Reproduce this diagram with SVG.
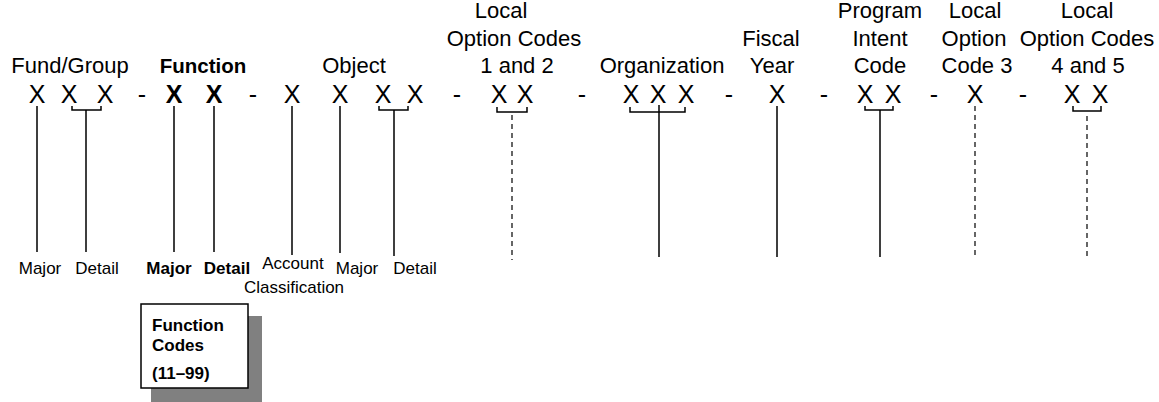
<svg xmlns="http://www.w3.org/2000/svg" width="1159" height="402" viewBox="0 0 1159 402">
<style>
text{font-family:"Liberation Sans",Arial,sans-serif;fill:#000}
.h{font-size:22px;text-anchor:middle}
.hb{font-size:20.5px;font-weight:bold;text-anchor:middle}
.x{font-size:25px;text-anchor:middle}
.xb{font-size:25px;font-weight:bold;text-anchor:middle}
.l{font-size:17px;text-anchor:middle}
.lb{font-size:17px;font-weight:bold;text-anchor:middle}
.bt{font-size:17px;font-weight:bold}
.ln{stroke:#000;stroke-width:1.5;fill:none}
.dl{stroke:#000;stroke-width:1.2;fill:none;stroke-dasharray:5 4}
</style>
<rect width="1159" height="402" fill="#fff"/>

<g id="fund">
<text class="h" x="70" y="73">Fund/Group</text>
<text class="x" x="37" y="103">X</text><text class="x" x="69" y="103">X</text><text class="x" x="105" y="103">X</text>
<text class="l" x="40" y="274">Major</text><text class="l" x="97" y="274">Detail</text>
</g>
<text class="x" x="142" y="103">-</text>
<g id="function">
<text class="hb" x="203" y="73">Function</text>
<text class="xb" x="174" y="103">X</text><text class="xb" x="214" y="103">X</text>
<text class="lb" x="169" y="274">Major</text><text class="lb" x="227" y="274">Detail</text>
</g>
<text class="x" x="253" y="103">-</text>
<g id="object">
<text class="h" x="354" y="73">Object</text>
<text class="x" x="292" y="103">X</text><text class="x" x="340" y="103">X</text><text class="x" x="383" y="103">X</text><text class="x" x="415" y="103">X</text>
<text class="l" x="293" y="269">Account</text><text class="l" x="294" y="293">Classification</text>
<text class="l" x="357" y="274">Major</text><text class="l" x="415" y="274">Detail</text>
</g>
<text class="x" x="457" y="103">-</text>
<g id="local12">
<text class="h" x="501" y="18">Local</text><text class="h" x="514" y="45.5">Option Codes</text><text class="h" x="517" y="73">1 and 2</text>
<text class="x" x="499" y="103">X</text><text class="x" x="525" y="103">X</text>
</g>
<text class="x" x="582" y="103">-</text>
<g id="organization">
<text class="h" x="662" y="73">Organization</text>
<text class="x" x="631" y="103">X</text><text class="x" x="658" y="103">X</text><text class="x" x="686" y="103">X</text>
</g>
<text class="x" x="729" y="103">-</text>
<g id="fiscal">
<text class="h" x="771" y="45.5">Fiscal</text><text class="h" x="772" y="73">Year</text>
<text class="x" x="777" y="103">X</text>
</g>
<text class="x" x="824" y="103">-</text>
<g id="program">
<text class="h" x="880" y="18">Program</text><text class="h" x="880" y="45.5">Intent</text><text class="h" x="880" y="73">Code</text>
<text class="x" x="865" y="103">X</text><text class="x" x="893" y="103">X</text>
</g>
<text class="x" x="934" y="103">-</text>
<g id="local3">
<text class="h" x="975" y="18">Local</text><text class="h" x="974" y="45.5">Option</text><text class="h" x="977" y="73">Code 3</text>
<text class="x" x="975" y="103">X</text>
</g>
<text class="x" x="1023" y="103">-</text>
<g id="local45">
<text class="h" x="1087" y="18">Local</text><text class="h" x="1087" y="45.5">Option Codes</text><text class="h" x="1088" y="73">4 and 5</text>
<text class="x" x="1072" y="103">X</text><text class="x" x="1100" y="103">X</text>
</g>

<g id="function-codes-box">
<rect x="151" y="316" width="111" height="86" fill="#808080"/>
<rect x="141" y="304" width="107" height="84" fill="#fff" stroke="#000" stroke-width="1.5"/>
<text class="bt" x="152" y="331">Function</text>
<text class="bt" x="152" y="350.5">Codes</text>
<text class="bt" x="152" y="379">(11–99)</text>
</g>

<g id="connectors">
<path class="ln" d="M37 106V252M174 106V252M214 106V252M292 106V255M340 106V253M777 106V257"/>
<path class="ln" d="M72 106V110H101V106M86 110V252"/>
<path class="ln" d="M379 106V110H408V106M394 110V256"/>
<path class="ln" d="M497 107V112H527V107"/>
<path class="dl" d="M512 115V260"/>
<path class="ln" d="M630 107V112H685V107M659 105V257"/>
<path class="ln" d="M865 106V110H893V106M880 110V257"/>
<path class="dl" d="M975 106V258"/>
<path class="ln" d="M1073 106V111H1101V106"/>
<path class="dl" d="M1087 116V260"/>
</g>
</svg>
